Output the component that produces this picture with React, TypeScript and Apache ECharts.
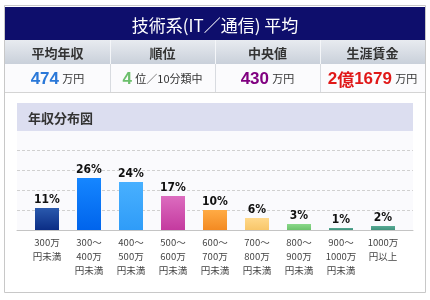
import React, { useEffect, useRef } from "react";
import * as echarts from "echarts";

const categories = [
  "300万\n円未満",
  "300〜\n400万\n円未満",
  "400〜\n500万\n円未満",
  "500〜\n600万\n円未満",
  "600〜\n700万\n円未満",
  "700〜\n800万\n円未満",
  "800〜\n900万\n円未満",
  "900〜\n1000万\n円未満",
  "1000万\n円以上",
];
const shares = [11, 26, 24, 17, 10, 6, 3, 1, 2];
const barColors: [string, string][] = [
  ["#2a59ad", "#0b2d85"],
  ["#1586ff", "#0064ec"],
  ["#48b0ff", "#2f9cf8"],
  ["#dc6cbf", "#c43a9f"],
  ["#ffab45", "#f38a22"],
  ["#ffd88a", "#f8c66a"],
  ["#8ad88a", "#6cc26c"],
  ["#55a893", "#3f917b"],
  ["#58aa95", "#41937d"],
];
const statLabels = ["平均年収", "順位", "中央値", "生涯賃金"];
const title = "技術系(IT／通信) 平均";
const sectionTitle = "年収分布図";

const JP = "'Noto Sans CJK JP', sans-serif";
const NUM = "'Liberation Sans', Arial, sans-serif";

export default function App() {
  const ref = useRef<HTMLDivElement>(null);
  useEffect(() => {
    const chart = echarts.init(ref.current!, undefined, { renderer: "svg" });
    const cellX = [5, 110, 215, 320, 425];
    const centers = [0, 1, 2, 3].map((i) => (cellX[i] + cellX[i + 1]) / 2);

    const graphics: any[] = [
      {
        type: "rect",
        z: -10,
        shape: { x: 4.5, y: 5.5, width: 421, height: 287 },
        style: { fill: "#fff", stroke: "#c8c8c8", lineWidth: 1 },
        silent: true,
      },
      {
        type: "rect",
        z: 10,
        shape: { x: 5, y: 7, width: 420, height: 33 },
        style: { fill: "#0e0e6c" },
      },
      {
        type: "text",
        z: 11,
        x: 215,
        y: 24,
        style: {
          text: title,
          fill: "#fff",
          font: `17px ${JP}`,
          align: "center",
          verticalAlign: "middle",
        },
      },
      {
        type: "rect",
        z: 10,
        shape: { x: 5, y: 40, width: 420, height: 24 },
        style: {
          fill: new echarts.graphic.LinearGradient(0, 0, 0, 1, [
            { offset: 0, color: "#e8ebf0" },
            { offset: 1, color: "#c9d0da" },
          ]),
        },
      },
      {
        type: "rect",
        z: 10,
        shape: { x: 5, y: 64, width: 420, height: 28 },
        style: { fill: "#fbfbfd" },
      },
      {
        type: "line",
        z: 11,
        shape: { x1: 5, y1: 92.5, x2: 425, y2: 92.5 },
        style: { stroke: "#d4d4d4", lineWidth: 1 },
      },
    ];
    [1, 2, 3].forEach((i) => {
      graphics.push({
        type: "line",
        z: 11,
        shape: { x1: cellX[i] + 0.5, y1: 40, x2: cellX[i] + 0.5, y2: 64 },
        style: { stroke: "#f4f6f9", lineWidth: 1 },
      });
      graphics.push({
        type: "line",
        z: 11,
        shape: { x1: cellX[i] + 0.5, y1: 64, x2: cellX[i] + 0.5, y2: 92 },
        style: { stroke: "#d8dbe0", lineWidth: 1 },
      });
    });
    statLabels.forEach((t, i) => {
      graphics.push({
        type: "text",
        z: 12,
        x: centers[i],
        y: 52,
        style: {
          text: t,
          fill: "#333",
          font: `bold 13px ${JP}`,
          align: "center",
          verticalAlign: "middle",
        },
      });
    });
    const valueRich = {
      b: { fontFamily: NUM, fontWeight: "bold", fontSize: 17, fill: "#2a78d8" },
      g: { fontFamily: NUM, fontWeight: "bold", fontSize: 17, fill: "#6cbf6c" },
      p: { fontFamily: NUM, fontWeight: "bold", fontSize: 17, fill: "#800080" },
      r: { fontFamily: NUM, fontWeight: "bold", fontSize: 17, fill: "#e01818" },
      rj: { fontFamily: JP, fontWeight: "bold", fontSize: 17, fill: "#e01818" },
      u: { fontFamily: JP, fontSize: 11, fill: "#333" },
    };
    const values = [
      "{b|474} {u|万円}",
      "{g|4} {u|位／10分類中}",
      "{p|430} {u|万円}",
      "{r|2}{rj|億}{r|1679} {u|万円}",
    ];
    values.forEach((t, i) => {
      graphics.push({
        type: "text",
        z: 12,
        x: centers[i],
        y: 78,
        style: {
          text: t,
          rich: valueRich,
          align: "center",
          verticalAlign: "middle",
        },
      });
    });
    graphics.push({
      type: "rect",
      z: 10,
      shape: { x: 17, y: 103, width: 396, height: 28 },
      style: { fill: "#dcdef0" },
    });
    graphics.push({
      type: "text",
      z: 11,
      x: 28,
      y: 117,
      style: {
        text: sectionTitle,
        fill: "#333",
        font: `bold 13px ${JP}`,
        align: "left",
        verticalAlign: "middle",
      },
    });

    chart.setOption({
      animation: false,
      graphic: graphics,
      grid: [
        {
          left: 17,
          right: 17,
          top: 130,
          bottom: 70,
          show: true,
          backgroundColor: "#fafafd",
          borderWidth: 0,
        },
        { left: 26, right: 26, top: 130, bottom: 70 },
      ],
      xAxis: [
        {
          gridIndex: 0,
          type: "value",
          min: 0,
          max: 1,
          axisLine: { show: true, lineStyle: { color: "#c4c4c4", width: 1 } },
          axisTick: { show: false },
          axisLabel: { show: false },
          splitLine: { show: false },
        },
        {
          gridIndex: 1,
          type: "category",
          data: categories,
          axisLine: { show: false },
          axisTick: { show: false },
          axisLabel: {
            color: "#444",
            fontSize: 9.5,
            lineHeight: 14,
            fontFamily: JP,
            margin: 5,
            interval: 0,
          },
        },
      ],
      yAxis: [
        {
          gridIndex: 0,
          type: "value",
          min: 0,
          max: 50,
          interval: 10,
          axisLine: { show: false },
          axisTick: { show: false },
          axisLabel: { show: false },
          splitLine: { show: true, lineStyle: { color: "#d0d0d0", type: [3, 2] } },
        },
        {
          gridIndex: 1,
          type: "value",
          min: 0,
          max: 50,
          show: false,
          splitLine: { show: false },
        },
      ],
      series: [
        {
          type: "bar",
          xAxisIndex: 1,
          yAxisIndex: 1,
          barWidth: 24,
          data: shares.map((v, i) => ({
            value: v,
            itemStyle: {
              color: new echarts.graphic.LinearGradient(0, 0, 0, 1, [
                { offset: 0, color: barColors[i][0] },
                { offset: 1, color: barColors[i][1] },
              ]),
            },
          })),
          label: {
            show: true,
            position: "top",
            distance: 3,
            formatter: "{c}%",
            color: "#111",
            fontWeight: "bold",
            fontSize: 12,
            fontFamily: "'DejaVu Sans Condensed', 'Liberation Sans Narrow', sans-serif",
          },
        },
      ],
    });
    return () => chart.dispose();
  }, []);
  return (
    <div
      ref={ref}
      style={{ position: "fixed", left: 0, top: 0, width: 430, height: 300 }}
    />
  );
}
